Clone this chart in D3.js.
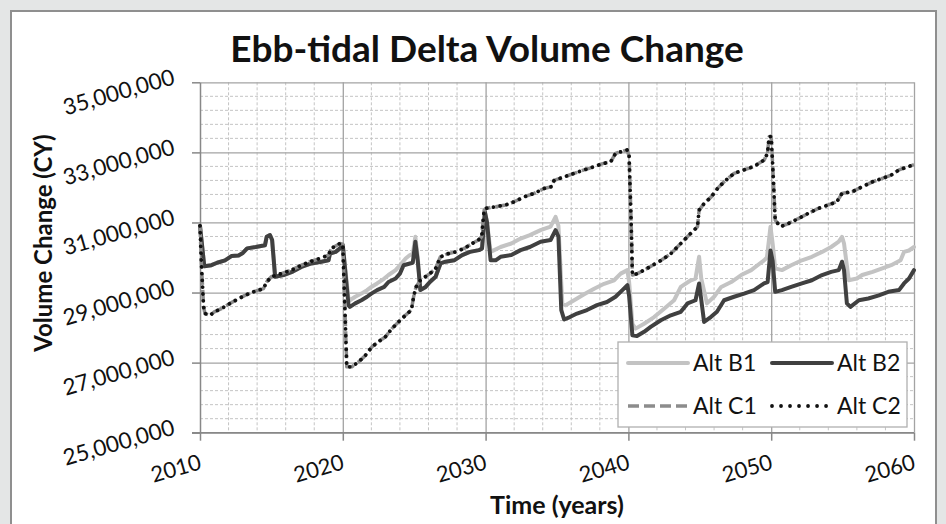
<html>
<head>
    <meta charset="UTF-8">
    <title>Ebb-tidal Delta Volume Change</title>
    <style>
        body { margin: 0; background: #e4e6e6; }
        text { font-family: Lato, "Open Sans", sans-serif; fill: #111; }
    </style>
</head>
<body>

<script src="https://d3js.org/d3.v7.min.js"></script>
<div id="my_dataviz"></div>

<script>
    // values in millions of CY as [year, value]
    var altB1 = [
        [2010.0, 30.9], [2010.3, 29.75], [2010.8, 29.78], [2011.2, 29.85], [2011.75, 29.92], [2012.2, 30.04],
        [2012.7, 30.06], [2013.0, 30.13], [2013.3, 30.26], [2013.9, 30.3], [2014.55, 30.35], [2014.67, 30.59],
        [2014.9, 30.64], [2015.05, 30.5], [2015.26, 29.45], [2015.85, 29.5], [2016.5, 29.6], [2017.1, 29.73],
        [2017.8, 29.83], [2018.5, 29.88], [2019.0, 29.92], [2019.1, 30.11], [2019.5, 30.16], [2019.8, 30.26],
        [2020.0, 30.35], [2020.4, 28.8], [2020.5, 28.78], [2020.87, 28.88], [2021.3, 28.97], [2021.7, 29.07],
        [2022.0, 29.16], [2022.4, 29.26], [2022.9, 29.4], [2023.2, 29.5], [2023.7, 29.64], [2024.0, 29.78],
        [2024.4, 29.97], [2024.7, 30.07], [2024.9, 30.1], [2025.08, 30.59], [2025.25, 30.0], [2025.43, 29.07],
        [2025.8, 29.16], [2026.1, 29.3], [2026.5, 29.45], [2026.84, 29.83], [2027.2, 29.88], [2027.8, 29.92],
        [2028.36, 30.07], [2028.9, 30.16], [2029.53, 30.21], [2029.75, 30.26], [2029.95, 31.3], [2030.1, 31.0],
        [2030.35, 30.16], [2031.05, 30.3], [2031.8, 30.4], [2032.45, 30.54], [2033.1, 30.64], [2033.85, 30.78],
        [2034.55, 30.88], [2034.9, 31.16], [2035.1, 30.9], [2035.37, 28.69], [2035.6, 28.64], [2036.2, 28.78],
        [2036.9, 28.95], [2037.6, 29.11], [2038.3, 29.25], [2039.0, 29.35], [2039.46, 29.54], [2039.93, 29.64],
        [2040.05, 29.3], [2040.28, 28.11], [2040.5, 27.97], [2041.1, 28.11], [2041.8, 28.3], [2042.5, 28.54],
        [2043.2, 28.78], [2043.67, 29.16], [2044.37, 29.35], [2044.7, 29.4], [2044.95, 30.02], [2045.1, 29.4],
        [2045.5, 28.69], [2046.0, 28.88], [2046.5, 29.16], [2047.2, 29.3], [2047.9, 29.5], [2048.6, 29.64],
        [2049.5, 29.92], [2049.7, 30.0], [2049.95, 30.88], [2050.1, 30.4], [2050.28, 29.69], [2050.75, 29.64],
        [2051.4, 29.78], [2052.15, 29.92], [2052.85, 30.02], [2053.56, 30.16], [2054.2, 30.3], [2054.73, 30.45],
        [2054.96, 30.59], [2055.1, 30.4], [2055.43, 29.35], [2056.0, 29.4], [2056.37, 29.5], [2057.1, 29.59],
        [2057.78, 29.69], [2058.4, 29.78], [2059.06, 29.92], [2059.3, 30.16], [2059.65, 30.2], [2060.0, 30.3]
    ];

    var altB2 = [
        [2010.0, 30.9], [2010.3, 29.75], [2010.8, 29.78], [2011.2, 29.85], [2011.75, 29.92], [2012.2, 30.04],
        [2012.7, 30.06], [2013.0, 30.13], [2013.3, 30.26], [2013.9, 30.3], [2014.55, 30.35], [2014.67, 30.59],
        [2014.9, 30.64], [2015.05, 30.5], [2015.26, 29.45], [2015.85, 29.5], [2016.5, 29.6], [2017.1, 29.73],
        [2017.8, 29.83], [2018.5, 29.88], [2019.0, 29.92], [2019.1, 30.11], [2019.5, 30.16], [2019.8, 30.26],
        [2020.0, 30.35], [2020.4, 28.64], [2020.5, 28.59], [2020.87, 28.69], [2021.3, 28.78], [2021.7, 28.88],
        [2022.0, 28.97], [2022.4, 29.07], [2022.9, 29.16], [2023.2, 29.3], [2023.7, 29.4], [2024.0, 29.54],
        [2024.26, 29.78], [2024.7, 29.83], [2024.9, 29.85], [2025.08, 30.45], [2025.25, 29.9], [2025.43, 29.07],
        [2025.8, 29.16], [2026.1, 29.3], [2026.5, 29.45], [2026.84, 29.83], [2027.2, 29.88], [2027.8, 29.92],
        [2028.36, 30.07], [2028.9, 30.16], [2029.53, 30.21], [2029.75, 30.26], [2029.95, 31.3], [2030.1, 31.0],
        [2030.35, 29.92], [2030.7, 29.92], [2031.05, 30.02], [2031.8, 30.07], [2032.45, 30.21], [2033.1, 30.3],
        [2033.85, 30.45], [2034.55, 30.5], [2034.9, 30.78], [2035.1, 30.6], [2035.3, 28.5], [2035.5, 28.23],
        [2035.9, 28.3], [2036.4, 28.4], [2037.1, 28.5], [2037.8, 28.64], [2038.5, 28.73], [2039.1, 28.88],
        [2039.58, 29.07], [2039.93, 29.21], [2040.05, 28.9], [2040.28, 27.78], [2040.6, 27.76], [2041.1, 27.88],
        [2041.56, 28.02], [2042.27, 28.21], [2042.97, 28.35], [2043.67, 28.45], [2044.14, 28.69], [2044.7, 28.78],
        [2044.95, 29.26], [2045.1, 28.8], [2045.3, 28.16], [2045.77, 28.3], [2046.2, 28.45], [2046.7, 28.78],
        [2047.4, 28.88], [2048.1, 28.97], [2048.8, 29.07], [2049.5, 29.26], [2049.75, 29.3], [2049.95, 30.2],
        [2050.1, 29.9], [2050.28, 29.02], [2050.75, 29.07], [2051.4, 29.16], [2052.15, 29.26], [2052.85, 29.35],
        [2053.56, 29.5], [2054.2, 29.59], [2054.73, 29.64], [2054.96, 29.88], [2055.1, 29.64], [2055.3, 28.69],
        [2055.55, 28.59], [2056.14, 28.78], [2056.8, 28.83], [2057.54, 28.92], [2058.2, 29.02], [2058.95, 29.07],
        [2059.3, 29.26], [2059.65, 29.4], [2060.0, 29.64]
    ];

    // Alt C1 lies under Alt C2 in the picture, only its grey edge shows
    var altC1 = [
        [2010.0, 30.9], [2010.1, 29.8], [2010.25, 28.6], [2010.35, 28.4], [2010.7, 28.35], [2011.0, 28.45],
        [2011.5, 28.54], [2012.1, 28.69], [2012.6, 28.8], [2013.15, 28.92], [2013.74, 29.02], [2014.44, 29.11],
        [2014.67, 29.3], [2015.0, 29.45], [2015.7, 29.54], [2016.4, 29.64], [2017.1, 29.78], [2017.7, 29.88],
        [2018.4, 29.97], [2019.0, 30.07], [2019.2, 30.26], [2019.8, 30.4], [2020.0, 30.38], [2020.15, 28.5],
        [2020.28, 26.88], [2020.63, 26.88], [2021.1, 27.02], [2021.57, 27.2], [2022.04, 27.45], [2022.5, 27.6],
        [2022.97, 27.73], [2023.44, 27.97], [2023.9, 28.16], [2024.38, 28.35], [2024.8, 28.5], [2024.96, 28.88],
        [2025.13, 29.16], [2025.43, 29.35], [2025.78, 29.45], [2026.1, 29.54], [2026.5, 29.69], [2026.84, 30.02],
        [2027.3, 30.1], [2027.9, 30.16], [2028.5, 30.26], [2029.06, 30.4], [2029.5, 30.5], [2029.72, 30.59],
        [2029.9, 31.35], [2030.0, 31.4], [2030.7, 31.45], [2031.4, 31.5], [2032.0, 31.59], [2032.7, 31.73],
        [2033.4, 31.83], [2034.1, 31.97], [2034.6, 32.02], [2034.8, 32.2], [2035.5, 32.3], [2036.2, 32.4],
        [2036.9, 32.5], [2037.6, 32.59], [2038.2, 32.68], [2038.76, 32.73], [2039.1, 32.97], [2039.5, 33.02],
        [2039.9, 33.07], [2040.05, 32.9], [2040.2, 30.9], [2040.28, 29.5], [2040.63, 29.54], [2041.1, 29.64],
        [2041.7, 29.78], [2042.3, 29.92], [2042.97, 30.11], [2043.67, 30.4], [2044.37, 30.69], [2044.84, 30.88],
        [2044.95, 31.35], [2045.3, 31.54], [2045.8, 31.73], [2046.24, 31.97], [2046.7, 32.16], [2047.4, 32.4],
        [2048.1, 32.5], [2048.8, 32.6], [2049.5, 32.78], [2049.74, 32.97], [2049.86, 33.45], [2050.0, 33.45],
        [2050.12, 32.5], [2050.28, 31.07], [2050.63, 30.88], [2051.2, 30.97], [2051.9, 31.11], [2052.6, 31.26],
        [2053.3, 31.4], [2054.0, 31.5], [2054.6, 31.59], [2054.96, 31.83], [2055.7, 31.88], [2056.37, 32.02],
        [2057.1, 32.16], [2057.78, 32.26], [2058.4, 32.35], [2058.95, 32.5], [2059.65, 32.6], [2060.0, 32.65]
    ];

    var altC2 = [
        [2010.0, 30.9], [2010.1, 29.8], [2010.25, 28.6], [2010.35, 28.4], [2010.7, 28.35], [2011.0, 28.45],
        [2011.5, 28.54], [2012.1, 28.69], [2012.6, 28.8], [2013.15, 28.92], [2013.74, 29.02], [2014.44, 29.11],
        [2014.67, 29.3], [2015.0, 29.45], [2015.7, 29.54], [2016.4, 29.64], [2017.1, 29.78], [2017.7, 29.88],
        [2018.4, 29.97], [2019.0, 30.07], [2019.2, 30.26], [2019.8, 30.4], [2020.0, 30.38], [2020.15, 28.5],
        [2020.28, 26.88], [2020.63, 26.88], [2021.1, 27.02], [2021.57, 27.2], [2022.04, 27.45], [2022.5, 27.6],
        [2022.97, 27.73], [2023.44, 27.97], [2023.9, 28.16], [2024.38, 28.35], [2024.8, 28.5], [2024.96, 28.88],
        [2025.13, 29.16], [2025.43, 29.35], [2025.78, 29.45], [2026.1, 29.54], [2026.5, 29.69], [2026.84, 30.02],
        [2027.3, 30.1], [2027.9, 30.16], [2028.5, 30.26], [2029.06, 30.4], [2029.5, 30.5], [2029.72, 30.59],
        [2029.9, 31.35], [2030.0, 31.4], [2030.7, 31.45], [2031.4, 31.5], [2032.0, 31.59], [2032.7, 31.73],
        [2033.4, 31.83], [2034.1, 31.97], [2034.6, 32.02], [2034.8, 32.2], [2035.5, 32.3], [2036.2, 32.4],
        [2036.9, 32.5], [2037.6, 32.59], [2038.2, 32.68], [2038.76, 32.73], [2039.1, 32.97], [2039.5, 33.02],
        [2039.9, 33.07], [2040.05, 32.9], [2040.2, 30.9], [2040.28, 29.5], [2040.63, 29.54], [2041.1, 29.64],
        [2041.7, 29.78], [2042.3, 29.92], [2042.97, 30.11], [2043.67, 30.4], [2044.37, 30.69], [2044.84, 30.88],
        [2044.95, 31.35], [2045.3, 31.54], [2045.8, 31.73], [2046.24, 31.97], [2046.7, 32.16], [2047.4, 32.4],
        [2048.1, 32.5], [2048.8, 32.6], [2049.5, 32.78], [2049.74, 32.97], [2049.86, 33.45], [2050.0, 33.45],
        [2050.12, 32.5], [2050.28, 31.07], [2050.63, 30.88], [2051.2, 30.97], [2051.9, 31.11], [2052.6, 31.26],
        [2053.3, 31.4], [2054.0, 31.5], [2054.6, 31.59], [2054.96, 31.83], [2055.7, 31.88], [2056.37, 32.02],
        [2057.1, 32.16], [2057.78, 32.26], [2058.4, 32.35], [2058.95, 32.5], [2059.65, 32.6], [2060.0, 32.65]
    ];

    var seriesNames = ["Alt B1", "Alt B2", "Alt C1", "Alt C2"];
    var xTicks = [2010, 2020, 2030, 2040, 2050, 2060];
    var yTicks = [25, 27, 29, 31, 33, 35];

    // set the dimensions and margins of the graph
    var outerWidth = 946, outerHeight = 524,
        margin = {top: 82.3, right: 32, bottom: 91.3, left: 200},
        width = outerWidth - margin.left - margin.right,
        height = outerHeight - margin.top - margin.bottom;

    var styles = {
        "Alt B1": {color: "#c3c3c3", dash: null, width: 4, cap: "round"},
        "Alt B2": {color: "#404040", dash: null, width: 4, cap: "round"},
        "Alt C1": {color: "#8c8c8c", dash: "11,5", width: 3.5, cap: "butt"},
        "Alt C2": {color: "#111111", dash: "0.01,6.8", width: 3.8, cap: "round"}
    };

    var root = d3.select("#my_dataviz")
        .append("svg")
        .attr("width", outerWidth)
        .attr("height", outerHeight);

    // chart frame
    root.append("rect")
        .attr("x", 11).attr("y", 11)
        .attr("width", 925).attr("height", 530)
        .attr("fill", "#ffffff")
        .attr("stroke", "#8f8f8f")
        .attr("stroke-width", 2);

    var svg = root.append("g")
        .attr("transform", `translate(${margin.left}, ${margin.top})`);

    var x = d3.scaleLinear().domain([2010, 2060]).range([0, width]);
    var y = d3.scaleLinear().domain([25, 35]).range([height, 0]);

    // minor gridlines (dashed): every 2 years, every 400,000 CY
    var minorX = d3.range(2012, 2060, 2).filter(d => d % 10 !== 0);
    var minorY = d3.range(1, 25).filter(i => i % 5 !== 0).map(i => 25 + i * 0.4);

    svg.append("g").selectAll("line")
        .data(minorX).enter().append("line")
        .attr("x1", d => x(d)).attr("x2", d => x(d))
        .attr("y1", 0).attr("y2", height)
        .attr("stroke", "#c4c4c4").attr("stroke-dasharray", "3,2");
    svg.append("g").selectAll("line")
        .data(minorY).enter().append("line")
        .attr("x1", 0).attr("x2", width)
        .attr("y1", d => y(d)).attr("y2", d => y(d))
        .attr("stroke", "#c4c4c4").attr("stroke-dasharray", "3,2");

    // major gridlines
    svg.append("g")
        .call(d3.axisLeft(y).tickValues(yTicks).tickSize(-width).tickFormat(""))
        .call(g => g.select(".domain").remove())
        .selectAll("line").attr("stroke", "#a3a3a3").attr("stroke-width", 1.3);
    svg.append("g")
        .call(d3.axisBottom(x).tickValues(xTicks.slice(1)).tickSize(height).tickFormat(""))
        .call(g => g.select(".domain").remove())
        .selectAll("line").attr("stroke", "#a3a3a3").attr("stroke-width", 1.3);

    // axes
    var yAxis = svg.append("g")
        .call(d3.axisLeft(y).tickValues(yTicks).tickSize(8).tickSizeOuter(0)
            .tickFormat(d => d3.format(",")(Math.round(d * 1e6))));
    yAxis.select(".domain").attr("stroke", "#888").attr("stroke-width", 1.5);
    yAxis.selectAll(".tick line").attr("stroke", "#888").attr("stroke-width", 1.5);
    yAxis.selectAll(".tick text")
        .attr("x", null).attr("dy", null)
        .attr("text-anchor", "end")
        .attr("transform", "translate(-24, 1) rotate(-16)")
        .style("font-family", "Lato").style("font-size", "22.5px").attr("fill", "#111");

    var xAxis = svg.append("g")
        .attr("transform", `translate(0, ${height})`)
        .call(d3.axisBottom(x).tickValues(xTicks).tickSize(8).tickSizeOuter(0).tickFormat(d3.format("d")));
    xAxis.select(".domain").attr("d", `M-8,0H${width}`).attr("stroke", "#888").attr("stroke-width", 1.5);
    xAxis.selectAll(".tick line").attr("stroke", "#888").attr("stroke-width", 1.5);
    xAxis.selectAll(".tick text")
        .attr("y", null).attr("dy", null)
        .attr("text-anchor", "end")
        .attr("transform", "translate(2, 36) rotate(-16)")
        .style("font-family", "Lato").style("font-size", "22px").attr("fill", "#111");

    // series lines
    var line = d3.line()
        .x(d => x(d[0]))
        .y(d => y(d[1]));
    var seriesData = {"Alt B1": altB1, "Alt B2": altB2, "Alt C1": altC1, "Alt C2": altC2};

    seriesNames.forEach(function(name) {
        var s = styles[name];
        svg.append("path")
            .datum(seriesData[name])
            .attr("d", line)
            .attr("fill", "none")
            .attr("stroke", s.color)
            .attr("stroke-width", s.width)
            .attr("stroke-linejoin", "round")
            .attr("stroke-linecap", s.cap)
            .attr("stroke-dasharray", s.dash);
    });

    // titles
    root.append("text")
        .attr("x", 487).attr("y", 62)
        .attr("text-anchor", "middle")
        .style("font-size", "37px").style("font-weight", "bold")
        .text("Ebb-tidal Delta Volume Change");
    root.append("text")
        .attr("x", margin.left + width / 2).attr("y", 514)
        .attr("text-anchor", "middle")
        .style("font-size", "25px").style("font-weight", "bold")
        .text("Time (years)");
    root.append("text")
        .attr("transform", "translate(52, 243) rotate(-90)")
        .attr("text-anchor", "middle")
        .style("font-size", "24px").style("font-weight", "bold")
        .text("Volume Change (CY)");

    // legend
    var legend = root.append("g").attr("transform", "translate(618, 342)");
    legend.append("rect")
        .attr("width", 289).attr("height", 85)
        .attr("fill", "#fff").attr("stroke", "#b0b0b0").attr("stroke-width", 1.3);
    var item = legend.selectAll("g.item")
        .data(seriesNames).enter().append("g")
        .attr("class", "item")
        .attr("transform", (d, i) => `translate(${10 + (i % 2) * 144}, ${21 + Math.floor(i / 2) * 43})`);
    item.append("line")
        .attr("x1", 0).attr("x2", 60)
        .attr("stroke", d => styles[d].color)
        .attr("stroke-width", d => styles[d].width)
        .attr("stroke-linecap", d => styles[d].cap)
        .attr("stroke-dasharray", d => d === "Alt C2" ? "0.01,9" : styles[d].dash);
    item.append("text")
        .attr("x", 65).attr("dy", "0.35em")
        .style("font-size", "23px")
        .text(d => d);

</script>

</body>
</html>
